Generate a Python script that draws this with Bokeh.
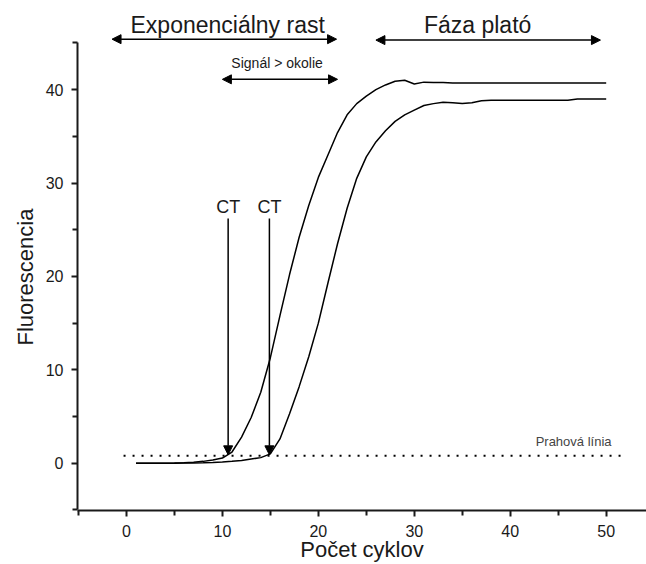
from bokeh.plotting import figure
from bokeh.models import Arrow, NormalHead, Label, FixedTicker, Range1d, Title
from bokeh.embed import file_html
from bokeh.resources import INLINE

# ---- data ----
cycles = list(range(1, 51))
sample_early = [0.0, 0.0, 0.0, 0.01, 0.02, 0.05, 0.1, 0.2, 0.35, 0.55,
                1.2, 2.8, 4.9, 7.6, 11.3, 15.8, 20.2, 24.2, 27.6, 30.6,
                33.0, 35.4, 37.3, 38.5, 39.3, 40.0, 40.5, 40.9, 41.0, 40.6,
                40.8, 40.75, 40.75, 40.7, 40.7, 40.7, 40.7, 40.7, 40.7, 40.7,
                40.7, 40.7, 40.7, 40.7, 40.7, 40.7, 40.7, 40.7, 40.7, 40.7]
sample_late = [0.0, 0.0, 0.0, 0.0, 0.01, 0.02, 0.03, 0.05, 0.08, 0.12,
               0.2, 0.3, 0.45, 0.6, 1.0, 2.6, 5.3, 8.2, 11.4, 15.0,
               19.3, 23.5, 27.3, 30.5, 32.8, 34.4, 35.6, 36.6, 37.3, 37.8,
               38.3, 38.5, 38.65, 38.6, 38.5, 38.6, 38.8, 38.85, 38.85, 38.85,
               38.85, 38.85, 38.85, 38.85, 38.85, 38.85, 39.0, 39.0, 39.0, 39.0]
x_ticks = [0, 10, 20, 30, 40, 50]
x_minor = [-5, 5, 15, 25, 35, 45, 55]
y_ticks = [0, 10, 20, 30, 40]
y_minor = [-5, 5, 15, 25, 35, 45]
threshold = 0.8
threshold_span = [-0.3, 51.5]
ct_values = [10.6, 14.9]
ct_label = "CT"
phase_labels = ["Exponenciálny rast", "Fáza plató", "Signál > okolie"]
phase_spans = [[-1.5, 21.9], [26.0, 49.4], [10.0, 22.0]]
threshold_label = "Prahová línia"
x_title = "Počet cyklov"
y_title = "Fluorescencia"

FONT = "Liberation Sans"
INK = "#1a1a1a"

p = figure(width=646, height=564,
           x_range=Range1d(-5.1, 54.2), y_range=Range1d(-5.06, 49.54),
           output_backend="svg", toolbar_location=None,
           min_border_left=77, min_border_right=0,
           min_border_top=0, min_border_bottom=54)
p.outline_line_color = None
p.xgrid.visible = False
p.ygrid.visible = False
p.background_fill_color = "white"
p.border_fill_color = "white"

for ax, ticks, minor in ((p.xaxis[0], x_ticks, x_minor), (p.yaxis[0], y_ticks, y_minor)):
    ax.ticker = FixedTicker(ticks=ticks, minor_ticks=minor)
    ax.axis_line_width = 2
    ax.axis_line_color = INK
    ax.major_tick_line_width = 2
    ax.major_tick_line_color = INK
    ax.minor_tick_line_width = 2
    ax.minor_tick_line_color = INK
    ax.major_tick_in = 0
    ax.major_tick_out = 6
    ax.minor_tick_in = 0
    ax.minor_tick_out = 5
    ax.major_label_text_font = FONT
    ax.major_label_text_font_size = "16px"
    ax.major_label_text_color = INK
    ax.axis_label_text_font = FONT
    ax.axis_label_text_font_size = "22px"
    ax.axis_label_text_font_style = "normal"
    ax.axis_label_text_color = INK

p.xaxis.axis_label = x_title
p.yaxis.bounds = (-5, 45)
p.xaxis.major_label_standoff = 8
p.xaxis.axis_label_standoff = -3
p.yaxis.major_label_standoff = 8

# y title centred on the drawn axis extent (-5..45), as in the reference
p.add_layout(Title(text=y_title, align="left", offset=165, standoff=9,
                   text_font=FONT, text_font_size="22px", text_color=INK,
                   text_font_style="normal"), "left")

# curves
p.line(cycles, sample_early, line_color="black", line_width=1.5)
p.line(cycles, sample_late, line_color="black", line_width=1.5)

# threshold line
p.segment(x0=[threshold_span[0]], y0=[threshold], x1=[threshold_span[1]], y1=[threshold],
          line_color="black", line_width=2, line_dash="2 7")
p.add_layout(Label(x=46.6, y=2.3, text=threshold_label, text_font=FONT,
                   text_font_size="13px", text_color="#444444",
                   text_align="center", text_baseline="middle"))

# CT arrows
for ct in ct_values:
    p.add_layout(Arrow(end=NormalHead(size=9, fill_color="black", line_color="black"),
                       x_start=ct, y_start=26.2, x_end=ct, y_end=threshold + 0.1,
                       line_color="black", line_width=1.5))
    p.add_layout(Label(x=ct, y=27.4, text=ct_label, text_font=FONT,
                       text_font_size="18px", text_color=INK,
                       text_align="center", text_baseline="middle"))

# phase arrows
arrow_y = [45.4, 45.3, 41.1]
label_x = [10.55, 36.6, 15.7]
label_y = [46.9, 46.9, 42.8]
label_size = ["23px", "23px", "14px"]
for (x0, x1), ay, txt, lx, ly, fs in zip(phase_spans, arrow_y, phase_labels, label_x, label_y, label_size):
    p.add_layout(Arrow(start=NormalHead(size=9, fill_color="black", line_color="black"),
                       end=NormalHead(size=9, fill_color="black", line_color="black"),
                       x_start=x0, y_start=ay, x_end=x1, y_end=ay,
                       line_color="black", line_width=1.5))
    p.add_layout(Label(x=lx, y=ly, text=txt, text_font=FONT,
                       text_font_size=fs, text_color=INK,
                       text_align="center", text_baseline="middle"))

open("out.html", "w").write(file_html(p, INLINE))
